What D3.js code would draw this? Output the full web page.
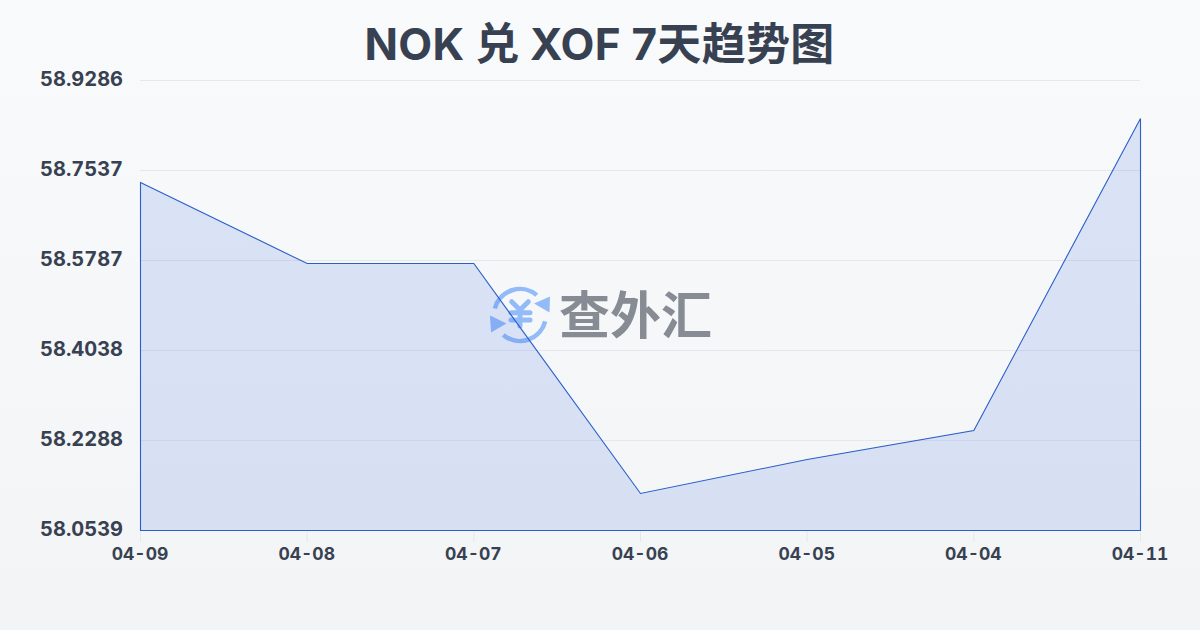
<!DOCTYPE html>
<html><head><meta charset="utf-8">
<script src="https://cdn.jsdelivr.net/npm/d3@7/dist/d3.min.js"></script>
<style>html,body{margin:0;padding:0;width:1200px;height:630px;overflow:hidden}svg{display:block}
text{font-family:Inter,"Noto Sans CJK SC",sans-serif;font-feature-settings:"tnum"}</style></head><body><svg id="c" width="1200" height="630"></svg>
<script>
const titleText = "NOK 兑 XOF 7天趋势图";
const dates = ["04-09","04-08","04-07","04-06","04-05","04-04","04-11"];
const rates = [58.7303,58.5728,58.5728,58.1258,58.1919,58.2483,58.8547];
const yTicks = [58.0539,58.2288,58.4038,58.5787,58.7537,58.9286];
const watermark = "查外汇";

const svg = d3.select("#c");
const defs = svg.append("defs");
const bg = defs.append("linearGradient").attr("id","bg").attr("x1",0).attr("y1",0).attr("x2",0).attr("y2",1);
bg.append("stop").attr("offset",0).attr("stop-color","#f8fafc");
bg.append("stop").attr("offset",1).attr("stop-color","#f3f4f6");
svg.append("rect").attr("width",1200).attr("height",630).attr("fill","url(#bg)");

const x = d3.scalePoint().domain(dates).range([140,1140]);
const y = d3.scaleLinear().domain([yTicks[0],yTicks[yTicks.length-1]]).range([530,80]);

svg.append("text").attr("x",599.5).attr("y",60).attr("text-anchor","middle")
  .attr("font-size",44).attr("font-weight",700).attr("fill","#374151")
  .style("font-feature-settings","normal").attr("letter-spacing",.27).text(titleText);

svg.append("g").selectAll("line").data(yTicks).join("line")
  .attr("x1",140).attr("x2",1140).attr("y1",d=>y(d)+.5).attr("y2",d=>y(d)+.5)
  .attr("stroke","#e5e7eb").attr("stroke-width",1);

svg.append("g").selectAll("text").data(yTicks).join("text")
  .attr("x",123).attr("y",d=>y(d)+6).attr("text-anchor","end")
  .attr("font-size",20).attr("font-weight",700).attr("fill","#374151").text(d=>d.toFixed(4));

svg.append("g").selectAll("line").data(dates).join("line")
  .attr("x1",d=>x(d)+.5).attr("x2",d=>x(d)+.5).attr("y1",531).attr("y2",542)
  .attr("stroke","#e5e7eb");
svg.append("g").selectAll("text").data(dates).join("text")
  .attr("x",d=>x(d)).attr("y",560).attr("text-anchor","middle")
  .attr("font-size",17.5).attr("font-weight",700).attr("fill","#374151").text(d=>d);

// watermark
const wm = svg.append("g");
const blue = "#93bbf8";
const lg = wm.append("g").attr("transform","translate(520,315)");
const ring = d3.arc().innerRadius(26).outerRadius(26);
lg.append("path").attr("d",ring({startAngle:-1.32,endAngle:0.7})).attr("fill","none").attr("stroke",blue).attr("stroke-width",4.5).attr("stroke-linecap","round");
lg.append("path").attr("d",ring({startAngle:1.82,endAngle:3.84})).attr("fill","none").attr("stroke",blue).attr("stroke-width",4.5).attr("stroke-linecap","round");
lg.append("path").attr("d","M14,-11.5 L30,-18.5 L29.5,-2.5 Z").attr("fill",blue);
lg.append("path").attr("d","M-30,0.5 L-13.5,8.5 L-29,17.5 Z").attr("fill",blue);
lg.append("path").attr("d","M-8.3,-13.3 L0,-5 L8.3,-13.3 M-9,-2.3 H10 M-9,5 H10 M0,-5 V11").attr("fill","none")
  .attr("stroke",blue).attr("stroke-width",5).attr("stroke-linecap","round");
wm.append("text").attr("x",559).attr("y",334).attr("font-size",51).attr("font-weight",700)
  .attr("fill","#868b94").text(watermark);

const area = d3.area().x(d=>x(d[0])+.5).y0(y(yTicks[0])+.5).y1(d=>y(d[1])+.5);
const pts = dates.map((d,i)=>[d,rates[i]]);
svg.append("path").attr("d",area(pts)+"").attr("fill","#3366dd").attr("fill-opacity",.15)
  .attr("stroke","#2a5fc9").attr("stroke-width",1.1);
</script></body></html>
